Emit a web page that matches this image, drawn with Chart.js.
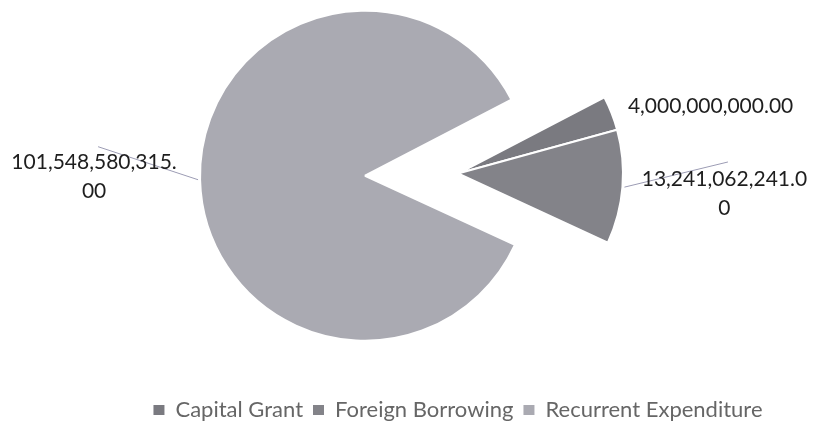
<!DOCTYPE html>
<html><head><meta charset="utf-8">
<script src="https://cdn.jsdelivr.net/npm/chart.js@4.4.1/dist/chart.umd.min.js"></script>
<style>html,body{margin:0;padding:0;background:#fff;}#wrap{width:815px;height:431px;position:relative;}</style>
</head><body><div id="wrap"><canvas id="c"></canvas></div>
<script>
// ---- data ----
const categories = ['Capital Grant', 'Foreign Borrowing', 'Recurrent Expenditure'];
const amounts = [4000000000.00, 13241062241.00, 101548580315.00];

// ---- style / layout ----
const sliceColors = ['#7a7a80', '#838389', '#aaaab2'];
const FONT = 'Lato, "Open Sans", sans-serif';
const EXPLODE = [0, 0, 93];                       // px the slice is pulled out along its bisector
const LABEL_SHIFT = [[99, -7], [102, 7], [-106, -2.5]]; // label centre relative to outer arc midpoint
const LEADER_END = [null, [3.5, -32], [4, -30.5]];      // leader end relative to label centre
const WRAP = 16;
const LINE_H = 29;

function fmt(v) {
  return v.toLocaleString('en-US', {minimumFractionDigits: 2, maximumFractionDigits: 2});
}
function wrapText(s) {
  const out = [];
  for (let i = 0; i < s.length; i += WRAP) out.push(s.slice(i, i + WRAP));
  return out;
}

const explodePlugin = {
  id: 'explode',
  afterDatasetsUpdate(chart) {
    chart.getDatasetMeta(0).data.forEach((arc, i) => {
      const d = EXPLODE[i];
      if (!d) return;
      const mid = (arc.startAngle + arc.endAngle) / 2;
      arc.x += Math.cos(mid) * d;
      arc.y += Math.sin(mid) * d;
    });
  }
};

const labelPlugin = {
  id: 'sliceLabels',
  afterDatasetsDraw(chart) {
    const ctx = chart.ctx;
    const ds = chart.data.datasets[0];
    chart.getDatasetMeta(0).data.forEach((arc, i) => {
      const mid = (arc.startAngle + arc.endAngle) / 2;
      const r = arc.outerRadius;
      const ox = arc.x + Math.cos(mid) * r;
      const oy = arc.y + Math.sin(mid) * r;
      const cx = ox + LABEL_SHIFT[i][0];
      const cy = oy + LABEL_SHIFT[i][1];
      const lines = wrapText(fmt(ds.data[i]));
      ctx.save();
      if (LEADER_END[i]) {
        ctx.strokeStyle = '#9c9cb4';
        ctx.lineWidth = 1;
        ctx.beginPath();
        ctx.moveTo(ox + Math.cos(mid) * 2, oy + Math.sin(mid) * 2);
        ctx.lineTo(cx + LEADER_END[i][0], cy + LEADER_END[i][1]);
        ctx.stroke();
      }
      ctx.fillStyle = '#1e1e1e';
      ctx.font = '21px ' + FONT;
      ctx.textAlign = 'center';
      ctx.textBaseline = 'middle';
      const top = cy - (lines.length - 1) * LINE_H / 2;
      lines.forEach((t, k) => ctx.fillText(t, cx, top + k * LINE_H));
      ctx.restore();
    });
  }
};

new Chart(document.getElementById('c'), {
  type: 'pie',
  data: {
    labels: categories,
    datasets: [{
      data: amounts,
      backgroundColor: sliceColors,
      borderColor: '#ffffff',
      borderWidth: 2
    }]
  },
  options: {
    responsive: true,
    maintainAspectRatio: false,
    animation: false,
    events: [],
    rotation: 62.5,
    radius: 165,
    layout: {padding: {left: 101, right: 0, top: 2, bottom: 0}},
    plugins: {
      tooltip: {enabled: false},
      legend: {
        position: 'bottom',
        title: {display: true, text: ' ', font: {size: 10, lineHeight: 1}, padding: {top: 34, bottom: 0}},
        labels: {
          font: {family: FONT, size: 22},
          color: '#3a3a3a',
          boxWidth: 11,
          boxHeight: 10,
          padding: 10,
          generateLabels(chart) {
            return chart.data.labels.map((l, i) => ({
              text: l,
              fillStyle: sliceColors[i],
              strokeStyle: sliceColors[i],
              lineWidth: 0,
              hidden: false,
              index: i
            }));
          }
        }
      }
    }
  },
  plugins: [explodePlugin, labelPlugin]
});
</script>
</body></html>
